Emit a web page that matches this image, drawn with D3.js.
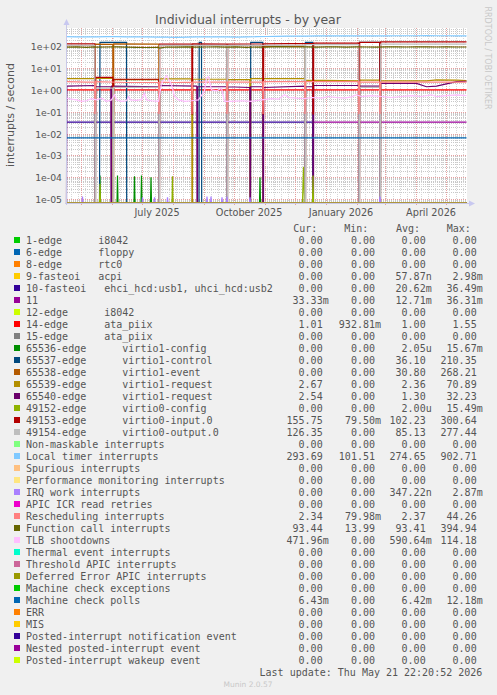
<!DOCTYPE html>
<html><head><meta charset="utf-8">
<script src="https://cdn.jsdelivr.net/npm/d3@7"></script>
<style>
html,body{margin:0;padding:0;background:#f0f0f0;}
svg{display:block;}
text{font-family:"DejaVu Sans",sans-serif;}
.mono{font-family:"DejaVu Sans Mono",monospace;font-size:10px;fill:#555;white-space:pre;}
</style></head><body>
<svg id="c" width="497" height="695"></svg>
<script>
// ---------------- DATA ----------------
const categories = [
 "1-edge      i8042","6-edge      floppy","8-edge      rtc0","9-fasteoi   acpi",
 "10-fasteoi   ehci_hcd:usb1, uhci_hcd:usb2","11","12-edge      i8042","14-edge      ata_piix",
 "15-edge      ata_piix","65536-edge      virtio1-config","65537-edge      virtio1-control",
 "65538-edge      virtio1-event","65539-edge      virtio1-request","65540-edge      virtio1-request",
 "49152-edge      virtio0-config","49153-edge      virtio0-input.0","49154-edge      virtio0-output.0",
 "Non-maskable interrupts","Local timer interrupts","Spurious interrupts",
 "Performance monitoring interrupts","IRQ work interrupts","APIC ICR read retries",
 "Rescheduling interrupts","Function call interrupts","TLB shootdowns","Thermal event interrupts",
 "Threshold APIC interrupts","Deferred Error APIC interrupts","Machine check exceptions",
 "Machine check polls","ERR","MIS","Posted-interrupt notification event",
 "Nested posted-interrupt event","Posted-interrupt wakeup event"];
const colors = ["#00CC00","#0066B3","#FF8000","#FFCC00","#330099","#990099","#CCFF00","#FF0000",
 "#808080","#008F00","#00487D","#B35A00","#B38F00","#6B006B","#8FB300","#B30000","#BEBEBE",
 "#80FF80","#80C9FF","#FFC080","#FFE680","#AA80FF","#EE00CC","#FF8080","#666600","#FFBFFF",
 "#00FFCC","#CC6699","#999900","#00CC00","#0066B3","#FF8000","#FFCC00","#330099","#990099","#CCFF00"];
const curVals = ["0.00","0.00","0.00","0.00","0.00","33.33m","0.00","1.01","0.00","0.00","0.00","0.00",
 "2.67","2.54","0.00","155.75","126.35","0.00","293.69","0.00","0.00","0.00","0.00","2.34","93.44",
 "471.96m","0.00","0.00","0.00","0.00","6.43m","0.00","0.00","0.00","0.00","0.00"];
const minVals = ["0.00","0.00","0.00","0.00","0.00","0.00","0.00","932.81m","0.00","0.00","0.00","0.00",
 "0.00","0.00","0.00","79.50m","0.00","0.00","101.51","0.00","0.00","0.00","0.00","79.98m","13.99",
 "0.00","0.00","0.00","0.00","0.00","0.00","0.00","0.00","0.00","0.00","0.00"];
const avgVals = ["0.00","0.00","0.00","57.87n","20.62m","12.71m","0.00","1.00","0.00","2.05u","36.10","30.80",
 "2.36","1.30","2.00u","102.23","85.13","0.00","274.65","0.00","0.00","347.22n","0.00","2.37","93.41",
 "590.64m","0.00","0.00","0.00","0.00","6.42m","0.00","0.00","0.00","0.00","0.00"];
const maxVals = ["0.00","0.00","0.00","2.98m","36.49m","36.31m","0.00","1.55","0.00","15.67m","210.35","268.21",
 "70.89","32.23","15.49m","300.64","277.44","0.00","902.71","0.00","0.00","2.87m","0.00","44.26","394.94",
 "114.18","0.00","0.00","0.00","0.00","12.18m","0.00","0.00","0.00","0.00","0.00"];
const yTickLabels = ["1e-05","1e-04","1e-03","1e-02","1e-01","1e+00","1e+01","1e+02"];
const xTickLabels = ["July 2025","October 2025","January 2026","April 2026"];

// series points: [day since start of graph, interrupts/second]
const irq10 = [[0,0.0333],[246.3,0.0333],[246.5,0]];
const irq11 = [[0,0],[246.5,0],[246.7,0.0333],[400,0.0333]];
const irq14 = [[0,1.0],[100,1.0],[200,1.0],[300,1.0],[400,1.0]];
const irq65536 = [[0,0],[33,0],[33.5,1.2e-4],[34,0],[50.5,0],[51,1.2e-4],[51.5,0],[67.5,0],[68,1.1e-4],[68.5,0],
 [74.5,0],[75,1.2e-4],[75.5,0],[84,0],[84.5,1e-4],[85,0],[193,0],[193.5,1e-4],[194,0],[400,0]];
const irq49152 = [[0,0],[33,0],[33.5,5e-5],[34,0],[105.5,0],[106,1.1e-4],[106.5,0],[236,0],[237,3e-4],[238,0],
 [246,0],[246.5,1.2e-4],[247,0],[400,0]];
const irq65537 = [[0,0],[33,0],[33.5,150],[60,150],[60.2,0],[132.5,0],[132.7,150],[135,150],[135.2,0],
 [184,0],[184.2,150],[196.3,150],[196.5,0],[238.7,0],[238.9,150],[246.3,150],[246.5,0],
 [292.7,0],[292.9,150],[313.3,150],[313.5,0],[400,0]];
const irq65538 = [[0,0],[28.3,0],[28.7,125],[46.3,122],[46.5,0],[47,0],[47.2,128],[92.3,125],[92.5,0],
 [196.5,0],[196.7,100],[238.3,100],[238.5,0],[400,0]];
const irq65539 = [[0,3.3],[28.3,3.3],[28.5,0],[29,0],[29.2,3.5],[46.3,3.4],[46.5,0],[47,0],[47.2,3.0],[92.3,3.0],[92.5,0],[93,0],
 [93.2,3.2],[125.3,3.2],[125.5,0],[126,0],[126.2,3.1],[160.3,3.1],[160.5,0],[161,0],[161.2,3.0],[183.3,3.0],[183.5,0],[184,0],
 [184.2,3.3],[238.3,3.3],[238.5,0],[239,0],[239.2,2.8],[292.3,2.6],[292.5,0],[293,0],[293.2,2.8],[313.3,2.8],[313.5,0],[314,0],
 [314.2,2.7],[360,2.6],[370,2.9],[390,2.8],[400,2.7]];
const irq65540 = [[0,0],[0.3,1.5],[28.3,1.6],[28.5,0],[29,0],[29.2,1.4],[44.3,1.4],[44.5,0],[45,0],[45.2,1.5],[92.3,1.4],[92.5,0],[93,0],
 [93.2,1.6],[130.3,1.5],[130.5,0],[131,0],[131.2,1.4],[160.3,1.4],[160.5,0],[161,0],[161.2,1.4],[183.3,1.3],[183.5,0],[184,0],
 [184.2,1.4],[196.3,1.4],[196.5,0],[197,0],[197.2,1.3],[238.3,1.5],[238.5,0],[239,0],[239.2,1.4],[246.3,1.4],[246.5,0],[247,0],
 [247.2,1.6],[292.3,1.6],[292.5,0],[293,0],[293.2,1.5],[313.3,1.5],[313.5,0],[314,0],[314.2,2.0],[350,2.0],[360,1.4],[370,1.5],[390,2.4],[400,2.5]];
const irq49153 = [[0,130],[28.3,130],[28.5,0.08],[29,0.08],[29.2,3.8],[46.3,3.8],[46.5,0.08],[47,0.08],[47.2,3.1],[92.3,3.1],[92.5,0.08],
 [93,0.08],[93.2,125],[125.3,125],[125.5,0.08],[126,0.08],[126.2,130],[160.3,125],[160.5,0.08],[161,0.08],[161.2,125],[196.3,128],
 [196.5,0.08],[197,0.08],[197.2,130],[246.3,135],[246.5,0.08],[247,0.08],[247.2,140],[292.3,140],[292.5,0.08],[293,0.08],
 [293.2,150],[313.3,150],[313.5,0.08],[314,0.08],[314.2,160],[400,160]];
const irq49154 = [[0,110],[28.3,110],[28.5,0],[29,0],[29.2,1.2],[46.3,1.2],[46.5,0],[47,0],[47.2,1.3],[92.3,1.3],[92.5,0],[93,0],
 [93.2,110],[160.3,110],[160.5,0],[161,0],[161.2,110],[238.3,110],[238.5,0],[239,0],[239.2,120],[292.3,120],[292.5,0],[293,0],
 [293.2,1.3],[313.3,1.3],[313.5,0],[314,0],[314.2,125],[400,125]];
const localTimer = [[0,280],[10,272],[20,268],[30,270],[40,275],[50,280],[60,272],[70,268],[80,270],[92,265],[100,262],
 [110,258],[120,266],[130,270],[140,268],[150,270],[160,272],[170,262],[180,268],[190,275],[200,282],[210,285],[220,290],
 [230,292],[240,295],[250,298],[260,300],[270,300],[280,302],[290,300],[300,305],[310,302],[320,303],[330,305],[340,304],
 [350,305],[360,306],[370,305],[380,304],[390,303],[400,300]];
const irqWork = [[0,0],[15.5,0],[16,1.3e-5],[16.5,0],[75.5,0],[76,1.2e-5],[76.5,0],[87.5,0],[88,1.2e-5],[88.5,0],[100.5,0],[101,1.2e-5],[101.5,0],
 [140,0],[140.5,1.3e-5],[141,0],[144,0],[144.5,1.3e-5],[145,0],[155,0],[155.5,1.2e-5],[156,0],[160,0],[160.5,1.3e-5],[161,0],
 [183,0],[183.5,1.2e-5],[184,0],[313,0],[313.5,1.3e-5],[314,0],[400,0]];
const resched = [[0,2.4],[20,2.3],[28.3,2.3],[28.5,0.08],[29,2.4],[60,2.2],[92.3,2.2],[92.5,0.08],[93,2.3],[110,2.2],[125.3,2.3],
 [125.5,0.08],[126,2.3],[160.3,2.3],[160.5,0.08],[161,2.3],[196.3,2.3],[196.5,0.08],[197,2.4],[238.3,2.4],[238.5,0.08],
 [239,2.4],[292.3,2.4],[292.5,0.08],[293,2.3],[313.3,2.3],[313.5,0.08],[314,2.3],[360,2.3],[400,2.3]];
const funcCall = [[0,92],[10,95],[20,90],[28,95],[30,92],[40,93],[50,95],[60,92],[70,90],[80,88],[92,90],[93,82],[100,93],
 [110,92],[120,95],[130,92],[140,93],[150,94],[160,92],[170,95],[180,90],[190,93],[200,92],[210,96],[220,95],[230,93],
 [240,94],[250,92],[260,95],[270,95],[280,92],[290,94],[300,93],[310,92],[320,95],[330,94],[340,93],[350,95],[360,94],
 [370,93],[380,95],[390,93],[400,93]];
const tlb = [[0,0.42],[5,0.38],[10,0.35],[15,0.3],[20,0.32],[25,0.4],[30,0.35],[35,0.42],[40,0.3],[45,0.35],[48,0.6],[50,0.35],
 [55,0.3],[60,0.32],[62,0.5],[64,0.35],[70,0.33],[75,0.36],[78,0.7],[80,0.35],[85,0.32],[92,0.3],[95,2.0],[100,4.5],[105,1.8],
 [108,0.5],[112,0.35],[118,0.3],[125,0.32],[132,0.35],[138,0.9],[140,3.5],[142,4.0],[145,1.0],[150,0.9],[155,1.2],[158,0.3],
 [165,0.3],[175,0.32],[185,0.3],[195,0.35],[205,0.4],[212,0.38],[218,0.6],[222,0.45],[230,0.42],[238,0.4],[245,0.45],[255,0.42],
 [262,0.5],[270,0.45],[278,0.42],[285,0.48],[290,0.6],[295,0.5],[305,0.55],[315,0.5],[325,0.45],[335,0.5],[345,0.55],[355,0.5],
 [365,0.6],[370,0.5],[380,0.55],[390,0.6],[400,0.55]];
const mcePolls = [[0,0.0064],[100,0.0064],[200,0.0064],[300,0.0064],[400,0.0064]];

const seriesPoints = {4:irq10,5:irq11,7:irq14,9:irq65536,10:irq65537,11:irq65538,12:irq65539,13:irq65540,14:irq49152,
 15:irq49153,16:irq49154,18:localTimer,21:irqWork,23:resched,24:funcCall,25:tlb,30:mcePolls};

// ---------------- DRAWING ----------------
const T0 = Date.UTC(2025,3,16,22,20,52), T1 = Date.UTC(2026,4,21,22,20,52);
const DAY = 86400000;
const PL = 67, PR = 467, PT = 28, PB = 203;
const x = d3.scaleUtc().domain([new Date(T0), new Date(T1)]).range([PL-0.5, PR-0.5]);
const y = d3.scaleLog().domain([6.6e-6, 690]).range([PB, PT]);
const yv = v => y(Math.max(v, 6.6e-6));
const svg = d3.select("#c");

svg.append("rect").attr("x",PL).attr("y",PT).attr("width",PR-PL).attr("height",PB-PT).attr("fill","#fff");

const grid = svg.append("g");
for (let e=-6;e<=2;e++) for (let m=2;m<=9;m++){ const v=m*Math.pow(10,e); if(v>6.6e-6&&v<690)
  grid.append("line").attr("x1",PL).attr("x2",PR).attr("y1",Math.round(y(v))+0.5).attr("y2",Math.round(y(v))+0.5)
   .attr("stroke","#c8c8c8").attr("stroke-dasharray","1,1").attr("stroke-width",1);}
d3.utcMonday.range(new Date(T0), new Date(T1)).forEach(d=>{
  grid.append("line").attr("x1",Math.round(x(d))+0.5).attr("x2",Math.round(x(d))+0.5).attr("y1",PT).attr("y2",PB)
   .attr("stroke","#d8d8d8").attr("stroke-dasharray","1,1");});
yTickLabels.forEach(t=>{ const v=+t; const yy=Math.round(y(v))+0.5;
  grid.append("line").attr("x1",PL).attr("x2",PR).attr("y1",yy).attr("y2",yy)
   .attr("stroke","#e6a0a0").attr("stroke-dasharray","1,1");
  svg.append("text").attr("x",62).attr("y",yy+3.3).attr("text-anchor","end").attr("font-size","9.3px").attr("fill","#555").text(t);});
d3.utcMonth.range(new Date(T0), new Date(T1)).forEach(d=>{ const xx=Math.round(x(d))+0.5;
  grid.append("line").attr("x1",xx).attr("x2",xx).attr("y1",PT).attr("y2",PB+3)
   .attr("stroke","#e6a0a0").attr("stroke-dasharray","1,1");});
const fmt = d3.utcFormat("%B %Y");
d3.utcMonth.every(3).range(new Date(T0), new Date(T1)).forEach(d=>{
  const mid = new Date(d.getTime()+15.5*DAY);
  svg.append("text").attr("x",x(mid)).attr("y",216).attr("text-anchor","middle").attr("font-size","9.7px").attr("fill","#555").text(fmt(d));});

const line = d3.line().x(p=>x(new Date(T0+p[0]*DAY))).y(p=>yv(p[1]));
const lines = svg.append("g");
categories.forEach((c,i)=>{
  const pts = seriesPoints[i] || [[0,0],[400,0]];
  lines.append("path").attr("d",line(pts)).attr("fill","none").attr("stroke",colors[i]).attr("stroke-width",1.2);
});

svg.append("line").attr("x1",PL-0.5).attr("x2",PL-0.5).attr("y1",PT-4).attr("y2",PB+2).attr("stroke","#c8c8e8");
svg.append("line").attr("x1",PL-2).attr("x2",PR+3).attr("y1",PB+0.5).attr("y2",PB+0.5).attr("stroke","#c8c8e8");
svg.append("path").attr("d",`M${PL-3.5},${PT-3} L${PL+2.5},${PT-3} L${PL-0.5},${PT-9} Z`).attr("fill","#c8c8f0");
svg.append("path").attr("d",`M${PR+2},${PB-2.5} L${PR+2},${PB+3.5} L${PR+8},${PB+0.5} Z`).attr("fill","#c8c8f0");

svg.append("text").attr("x",248).attr("y",24).attr("text-anchor","middle").attr("font-size","12.5px").attr("fill","#555")
  .text("Individual interrupts - by year");
svg.append("text").attr("transform","translate(14,115) rotate(-90)").attr("text-anchor","middle").attr("font-size","11px")
  .attr("fill","#555").text("interrupts / second");
svg.append("text").attr("transform","translate(485,58) rotate(90)").attr("text-anchor","middle").attr("font-size","8px")
  .attr("fill","#c8c8c8").text("RRDTOOL / TOBI OETIKER");

const lg = svg.append("g");
[["Cur:",293.3],["Min:",344.3],["Avg:",396],["Max:",446.7]].forEach(h=>
  lg.append("text").attr("class","mono").attr("x",h[1]).attr("y",231.5).text(h[0]));
const colEnds = [328.7,381,431.7,482.7];
categories.forEach((c,i)=>{
  const cy = 240 + i*12;
  lg.append("rect").attr("x",14).attr("y",cy-3).attr("width",6).attr("height",6).attr("fill",colors[i]);
  lg.append("text").attr("class","mono").attr("x",26).attr("y",cy+3.5).text(c);
  [curVals[i],minVals[i],avgVals[i],maxVals[i]].forEach((v,k)=>{
    const suf = /[a-z]$/.test(v);
    lg.append("text").attr("class","mono").attr("x",colEnds[k]-(suf?0:6.02)).attr("y",cy+3.5)
      .attr("text-anchor","end").text(v);
  });
});
lg.append("text").attr("class","mono").attr("x",482.3).attr("y",675.5).attr("text-anchor","end")
  .text("Last update: Thu May 21 22:20:52 2026");
svg.append("text").attr("x",248).attr("y",687).attr("text-anchor","middle").attr("font-size","7.5px")
  .attr("fill","#c8c8c8").text("Munin 2.0.57");
</script></body></html>
